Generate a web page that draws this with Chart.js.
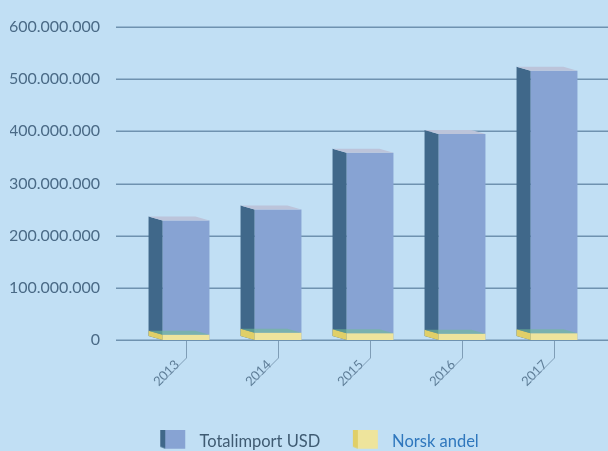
<!DOCTYPE html>
<html>
<head>
<meta charset="utf-8">
<script src="https://cdn.jsdelivr.net/npm/chart.js@4/dist/chart.umd.min.js"></script>
<style>
  html, body { margin: 0; padding: 0; background: #c1dff4; }
  #wrap { width: 608px; height: 451px; }
</style>
</head>
<body>
<div id="wrap"><canvas id="importChart" width="608" height="451"></canvas></div>
<script>
const years = ['2013', '2014', '2015', '2016', '2017'];
const totalImport = [229000000, 250000000, 359000000, 395000000, 516000000];
const norskAndel = [10000000, 14000000, 13000000, 12000000, 13000000];
const yTicks = [0, 100000000, 200000000, 300000000, 400000000, 500000000, 600000000];
const seriesNames = ['Totalimport USD', 'Norsk andel'];

// colours for the three faces of each box: front, side, top
const boxColors = [
  { front: '#87a3d3', side: '#40688a', top: '#bcc4da' },
  { front: '#eee49c', side: '#e0cf68', top: 'rgba(112,186,150,0.6)' }
];
const legendColors = ['#3f5b72', '#2f77bd'];
const gridColor = '#6f92af';
const depth = { dx: -14, dy: -4 };

const fmt = v => String(v).replace(/\B(?=(\d{3})+(?!\d))/g, '.');

const poly = (ctx, pts, fill) => {
  ctx.beginPath();
  ctx.moveTo(pts[0][0], pts[0][1]);
  pts.slice(1).forEach(p => ctx.lineTo(p[0], p[1]));
  ctx.closePath();
  ctx.fillStyle = fill;
  ctx.fill();
};

// small 3d cube for the legend, sitting in the right part of a wide box
const ICON_W = 60;
const makeIcon = (c) => {
  const cv = document.createElement('canvas');
  cv.width = ICON_W; cv.height = 36;
  const g = cv.getContext('2d');
  const o = ICON_W - 31;
  poly(g, [[o, 0], [o + 5, 2], [o + 5, 25], [o, 23]], c.side);
  poly(g, [[o + 5, 2], [o + 25, 2], [o + 25, 25], [o + 5, 25]], c.front);
  poly(g, [[o, 0], [o + 20, 0], [o + 25, 2], [o + 5, 2]], c.top);
  return cv;
};
const icons = boxColors.map(makeIcon);

const gridPlugin = {
  id: 'extGrid',
  beforeDatasetsDraw(chart) {
    const ctx = chart.ctx;
    const y = chart.scales.y;
    ctx.save();
    ctx.strokeStyle = gridColor;
    ctx.lineWidth = 1.5;
    yTicks.forEach(v => {
      const py = Math.round(y.getPixelForValue(v)) + 0.25;
      ctx.beginPath();
      ctx.moveTo(chart.chartArea.left - 24, py);
      ctx.lineTo(chart.width, py);
      ctx.stroke();
    });
    ctx.restore();
  }
};

const boxPlugin = {
  id: 'boxes3d',
  afterDatasetDraw(chart, args) {
    const ctx = chart.ctx;
    const c = boxColors[args.index];
    ctx.save();
    args.meta.data.forEach(bar => {
      const p = bar.getProps(['x', 'y', 'base', 'width'], true);
      const l = p.x - p.width / 2, r = p.x + p.width / 2;
      poly(ctx, [[l, p.y], [l + depth.dx, p.y + depth.dy], [l + depth.dx, p.base + depth.dy], [l, p.base]], c.side);
      poly(ctx, [[l, p.y], [l + depth.dx, p.y + depth.dy], [r + depth.dx, p.y + depth.dy], [r, p.y]], c.top);
    });
    ctx.restore();
  }
};

const leaderPlugin = {
  id: 'leaders',
  afterDraw(chart) {
    const ctx = chart.ctx;
    const x = chart.scales.x;
    const b = chart.chartArea.bottom;
    ctx.save();
    ctx.strokeStyle = '#7f9db6';
    ctx.lineWidth = 1;
    years.forEach((yr, i) => {
      const px = Math.round(x.getPixelForTick(i)) + 0.5;
      ctx.beginPath();
      ctx.moveTo(px, b + 1);
      ctx.lineTo(px, b + 18);
      ctx.lineTo(px - 24, b + 42);
      ctx.stroke();
    });
    ctx.restore();
  }
};

new Chart(document.getElementById('importChart'), {
  type: 'bar',
  data: {
    labels: years,
    datasets: [
      {
        label: seriesNames[0],
        data: totalImport,
        backgroundColor: boxColors[0].front,
        borderWidth: 0,
        grouped: false,
        order: 1
      },
      {
        label: seriesNames[1],
        data: norskAndel,
        backgroundColor: boxColors[1].front,
        borderWidth: 0,
        grouped: false,
        order: 0
      }
    ]
  },
  options: {
    responsive: false,
    animation: false,
    layout: { padding: { left: 10, right: 8, top: 27, bottom: -9 } },
    datasets: { bar: { categoryPercentage: 1, barPercentage: 0.51 } },
    scales: {
      x: {
        grid: { display: false, drawTicks: false },
        border: { display: false },
        ticks: {
          color: '#5f7e98',
          font: { family: 'Lato', size: 13 },
          minRotation: 45,
          maxRotation: 45,
          labelOffset: -9,
          padding: 17
        },
        afterFit: s => { s.height = 90; }
      },
      y: {
        min: 0,
        max: 600000000,
        grid: { display: false, drawTicks: false },
        border: { display: false },
        afterBuildTicks: s => { s.ticks = yTicks.map(v => ({ value: v })); },
        afterFit: s => { s.width = 130; s.paddingTop = 0; s.paddingBottom = 0; },
        ticks: {
          color: '#4a6a86',
          font: { family: 'Lato', size: 16 },
          padding: 40,
          callback: v => fmt(v)
        }
      }
    },
    plugins: {
      tooltip: { enabled: false },
      legend: {
        position: 'bottom',
        labels: {
          usePointStyle: true,
          pointStyleWidth: ICON_W,
          padding: 3.5,
          font: { family: 'Lato', size: 16.5 },
          sort: (a, b) => a.datasetIndex - b.datasetIndex,
          generateLabels: chart => {
            const items = Chart.defaults.plugins.legend.labels.generateLabels(chart);
            items.forEach(it => {
              it.pointStyle = icons[it.datasetIndex];
              it.fontColor = legendColors[it.datasetIndex];
            });
            return items;
          }
        }
      }
    }
  },
  plugins: [gridPlugin, boxPlugin, leaderPlugin]
});
</script>
</body>
</html>
